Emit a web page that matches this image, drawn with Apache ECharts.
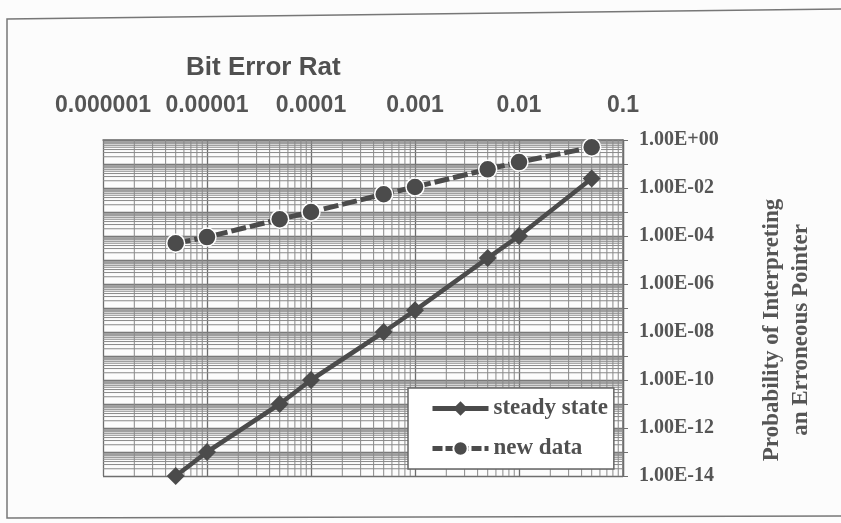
<!DOCTYPE html>
<html>
<head>
<meta charset="utf-8">
<script src="https://cdn.jsdelivr.net/npm/echarts@6/dist/echarts.min.js"></script>
<style>
  html, body { margin: 0; padding: 0; background: #fcfcfc; }
  #chart { width: 841px; height: 523px; }
</style>
</head>
<body>
<div id="chart"></div>
<script>
// bit error rate (x) values
var berValues = [5e-6, 1e-5, 5e-5, 1e-4, 5e-4, 1e-3, 5e-3, 1e-2, 5e-2];
// probability of interpreting an erroneous pointer
var steadyState = [1e-14, 1e-13, 1e-11, 1e-10, 1e-8, 8e-8, 1.2e-5, 1e-4, 2.5e-2];
var newData = [5e-5, 9e-5, 5e-4, 1e-3, 5.5e-3, 1.1e-2, 6e-2, 1.2e-1, 5e-1];

var xTickLabels = ['0.000001', '0.00001', '0.0001', '0.001', '0.01', '0.1'];
var yTickLabels = ['1.00E-14', '1.00E-12', '1.00E-10', '1.00E-08', '1.00E-06', '1.00E-04', '1.00E-02', '1.00E+00'];

var ink = '#4b4b4b';
var gridInk = '#6e6e6e';

function pairs(xs, ys) {
    var out = [];
    for (var i = 0; i < xs.length; i++) {
        out.push([xs[i], ys[i]]);
    }
    return out;
}

// log minor grid values (2..9 in each decade)
function minorValues(lo, hi) {
    var out = [];
    for (var e = lo; e < hi; e++) {
        for (var m = 2; m <= 9; m++) {
            out.push(m * Math.pow(10, e));
        }
    }
    return out;
}
var xMinor = minorValues(-6, -1);
var yMinor = minorValues(-14, 0);

var myChart = echarts.init(document.getElementById('chart'));
var option = {
    backgroundColor: '#fcfcfc',
    animation: false,
    title: {
        text: 'Bit Error Rat',
        left: 181,
        top: 50,
        textStyle: {
            fontFamily: 'Liberation Sans',
            fontWeight: 'bold',
            fontSize: 26,
            color: '#505050'
        }
    },
    graphic: [
        {
            type: 'polyline',
            shape: { points: [[841, 9], [7, 19], [7, 518], [841, 516]] },
            style: { stroke: '#777', lineWidth: 1.5, fill: null }
        },
        {
            type: 'text',
            x: 787,
            y: 330,
            rotation: Math.PI / 2,
            style: {
                text: 'Probability of Interpreting\nan Erroneous Pointer',
                align: 'center',
                verticalAlign: 'middle',
                lineHeight: 29,
                font: 'bold 23px "Liberation Serif"',
                fill: '#555'
            }
        }
    ],
    legend: {
        orient: 'vertical',
        left: 408,
        top: 388,
        padding: [9, 6, 9, 22],
        itemGap: 17,
        itemWidth: 56,
        itemHeight: 18,
        backgroundColor: '#ffffff',
        borderColor: '#666',
        borderWidth: 1.5,
        borderRadius: 0,
        textStyle: {
            fontFamily: 'Liberation Serif',
            fontWeight: 'bold',
            fontSize: 23,
            color: '#505050'
        },
        data: [
            { name: 'steady state', lineStyle: { width: 5 } },
            { name: 'new data', lineStyle: { width: 5, type: [10, 3] } }
        ]
    },
    grid: {
        left: 103,
        right: 218,
        top: 140,
        height: 336
    },
    xAxis: {
        type: 'log',
        logBase: 10,
        position: 'top',
        min: 1e-6,
        max: 0.1,
        interval: 1,
        axisLine: { show: true, lineStyle: { color: gridInk, width: 1.5 } },
        axisTick: { show: false },
        axisLabel: {
            margin: 23,
            fontFamily: 'Liberation Sans',
            fontWeight: 'bold',
            fontSize: 23,
            color: '#555',
            formatter: function (v) {
                var k = Math.round(Math.log10(v)) + 6;
                return xTickLabels[k] || '';
            }
        },
        splitLine: { show: true, lineStyle: { color: gridInk, width: 1.3 } }
    },
    yAxis: {
        type: 'log',
        logBase: 10,
        position: 'right',
        min: 1e-14,
        max: 1,
        interval: 1,
        axisLine: { show: true, lineStyle: { color: gridInk, width: 1.5 } },
        axisTick: { show: true, length: 5, lineStyle: { color: gridInk } },
        axisLabel: {
            margin: 16,
            fontFamily: 'Liberation Serif',
            fontWeight: 'bold',
            fontSize: 20,
            color: '#555',
            formatter: function (v) {
                var e = Math.round(Math.log10(v));
                if (e % 2 !== 0) return '';
                return yTickLabels[(e + 14) / 2] || '';
            }
        },
        splitLine: { show: true, lineStyle: { color: gridInk, width: 1.3 } }
    },
    series: [
        {
            name: 'xminor',
            type: 'custom',
            silent: true,
            z: 1,
            data: xMinor,
            renderItem: function (params, api) {
                var cs = params.coordSys;
                var p = api.coord([api.value(0), 1e-7]);
                return {
                    type: 'line',
                    shape: { x1: p[0], y1: cs.y, x2: p[0], y2: cs.y + cs.height },
                    style: { stroke: '#8a8a8a', lineWidth: 1 }
                };
            },
            encode: { x: 0 }
        },
        {
            name: 'yminor',
            type: 'custom',
            silent: true,
            z: 1,
            data: yMinor.map(function (v) { return [1e-3, v]; }),
            renderItem: function (params, api) {
                var cs = params.coordSys;
                var p = api.coord([api.value(0), api.value(1)]);
                return {
                    type: 'line',
                    shape: { x1: cs.x, y1: p[1], x2: cs.x + cs.width, y2: p[1] },
                    style: { stroke: '#8a8a8a', lineWidth: 1 }
                };
            },
            encode: { x: 0, y: 1 }
        },
        {
            name: 'steady state',
            type: 'line',
            z: 3,
            data: pairs(berValues, steadyState),
            symbol: 'diamond',
            symbolSize: 18,
            itemStyle: { color: ink },
            lineStyle: { color: ink, width: 4.5 }
        },
        {
            name: 'new data',
            type: 'line',
            z: 4,
            data: pairs(berValues, newData),
            symbol: 'circle',
            symbolSize: 18,
            itemStyle: { color: ink, borderColor: '#ffffff', borderWidth: 1.5 },
            lineStyle: { color: ink, width: 5, type: [15, 4] }
        }
    ]
};
myChart.setOption(option);
</script>
</body>
</html>
